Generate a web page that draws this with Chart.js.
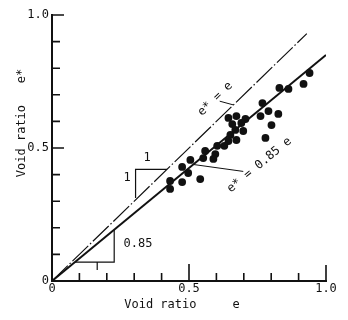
<!DOCTYPE html>
<html>
<head>
<meta charset="utf-8">
<script src="https://cdn.jsdelivr.net/npm/chart.js@4.4.1/dist/chart.umd.min.js"></script>
<style>
  html, body { margin: 0; padding: 0; background: #fff; }
  #wrap { width: 348px; height: 320px; }
</style>
</head>
<body>
<div id="wrap"><canvas id="voidChart" width="348" height="320"></canvas></div>
<script>
'use strict';

// measured void ratio e vs. equivalent void ratio e*
const ratioE     = [0.940, 0.918, 0.830, 0.863, 0.768, 0.790, 0.826, 0.761, 0.801, 0.779,
                    0.644, 0.673, 0.706, 0.658, 0.691, 0.669, 0.698, 0.651, 0.673, 0.644,
                    0.629, 0.603, 0.559, 0.552, 0.596, 0.589, 0.505, 0.475, 0.497, 0.541,
                    0.431, 0.475, 0.431];
const ratioEStar = [0.782, 0.741, 0.726, 0.722, 0.669, 0.639, 0.628, 0.620, 0.586, 0.538,
                    0.613, 0.620, 0.609, 0.590, 0.594, 0.568, 0.564, 0.549, 0.530, 0.526,
                    0.508, 0.508, 0.489, 0.462, 0.477, 0.459, 0.455, 0.429, 0.406, 0.383,
                    0.376, 0.372, 0.346];

// reference lines
const unityX = [0, 0.93];
const unityY = [0, 0.93];
const fitX   = [0, 1.0];
const fitY   = [0, 0.85];

// slope triangles
const triUpX  = [0.305, 0.305, 0.42];
const triUpY  = [0.312, 0.42, 0.42];
const triLowX = [0.0835, 0.227, 0.227];
const triLowY = [0.071, 0.071, 0.193];
const triTickX = [0.165, 0.165];
const triTickY = [0.071, 0.041];

// leader lines from labels
const leadUnityX = [0.612, 0.662];
const leadUnityY = [0.676, 0.662];
const leadFitX   = [0.516, 0.698];
const leadFitY   = [0.438, 0.412];

// axis ticks
const tickValues = [0.1, 0.2, 0.3, 0.4, 0.5, 0.6, 0.7, 0.8, 0.9, 1.0];
const tickLabels = { 0: '0', 0.5: '0.5', 1: '1.0' };

const INK = '#111';
const MONO = '"DejaVu Sans Mono", "Liberation Mono", monospace';

const pts = (xs, ys) => xs.map((x, i) => ({ x, y: ys[i] }));

const lineSet = (xs, ys, width, dash) => ({
  type: 'line',
  data: pts(xs, ys),
  borderColor: INK,
  borderWidth: width,
  borderDash: dash || [],
  pointRadius: 0,
  fill: false,
  tension: 0,
  order: 2,
});

const labelFor = v => {
  const key = Math.round(v * 10) / 10;
  return tickLabels[key] !== undefined ? tickLabels[key] : '';
};

const decorPlugin = {
  id: 'decor',
  afterDraw(chart) {
    const { ctx } = chart;
    const xs = chart.scales.x, ys = chart.scales.y;
    const x0 = xs.getPixelForValue(0), y0 = ys.getPixelForValue(0);
    ctx.save();
    ctx.strokeStyle = INK;
    ctx.fillStyle = INK;
    ctx.lineWidth = 1.6;
    ctx.beginPath();
    tickValues.forEach(v => {
      const px = xs.getPixelForValue(v);
      const lx = v === 0.5 ? 17 : v === 1.0 ? 16 : 8;
      ctx.moveTo(px, y0);
      ctx.lineTo(px, y0 - lx);
      const py = ys.getPixelForValue(v);
      const ly = (v === 0.5 || v === 1.0) ? 12 : 8;
      ctx.moveTo(x0, py);
      ctx.lineTo(x0 + ly, py);
    });
    ctx.stroke();

    const text = (str, vx, vy, angle, size) => {
      ctx.save();
      ctx.translate(xs.getPixelForValue(vx), ys.getPixelForValue(vy));
      ctx.rotate(angle);
      ctx.font = (size || 12) + 'px ' + MONO;
      ctx.textAlign = 'center';
      ctx.textBaseline = 'middle';
      ctx.fillText(str, 0, 0);
      ctx.restore();
    };
    text('1', 0.347, 0.462, 0);
    text('1', 0.274, 0.387, 0);
    text('0.85', 0.314, 0.139, 0);
    text('e* = e', 0.596, 0.684, -44 * Math.PI / 180);
    text('e* = 0.85 e', 0.757, 0.436, -39.6 * Math.PI / 180);

    // axis titles
    ctx.font = '12px ' + MONO;
    ctx.textAlign = 'center';
    ctx.textBaseline = 'middle';
    ctx.fillText('Void ratio     e', 182, 305);
    ctx.translate(22, 123);
    ctx.rotate(-Math.PI / 2);
    ctx.fillText('Void ratio   e*', 0, 0);
    ctx.restore();
  },
};

new Chart(document.getElementById('voidChart'), {
  type: 'scatter',
  data: {
    datasets: [
      {
        label: 'e*',
        data: pts(ratioE, ratioEStar),
        backgroundColor: INK,
        borderWidth: 0,
        pointRadius: 3.9,
        order: 1,
      },
      lineSet(unityX, unityY, 1.2, [22, 2.5, 1.5, 2.5]),
      lineSet(fitX, fitY, 2),
      lineSet(triUpX, triUpY, 1.2),
      lineSet(triLowX, triLowY, 1.2),
      lineSet(triTickX, triTickY, 1.2),
      lineSet(leadUnityX, leadUnityY, 1),
      lineSet(leadFitX, leadFitY, 1),
    ],
  },
  options: {
    responsive: false,
    animation: false,
    events: [],
    layout: { padding: { top: 15, right: 22, left: 0, bottom: 0 } },
    plugins: { legend: { display: false }, tooltip: { enabled: false } },
    scales: {
      x: {
        type: 'linear', min: 0, max: 1,
        grid: { display: false, drawTicks: false },
        border: { display: true, color: INK, width: 2 },
        ticks: {
          stepSize: 0.1, autoSkip: false, maxRotation: 0, padding: 1,
          color: INK, font: { family: MONO, size: 12 },
          callback: labelFor,
        },
        afterFit: s => { s.height = 39; },
      },
      y: {
        type: 'linear', min: 0, max: 1,
        grid: { display: false, drawTicks: false },
        border: { display: true, color: INK, width: 2 },
        ticks: {
          stepSize: 0.1, autoSkip: false, padding: 3,
          color: INK, font: { family: MONO, size: 12 },
          callback: labelFor,
        },
        afterFit: s => { s.width = 52; },
      },
    },
  },
  plugins: [decorPlugin],
});
</script>
</body>
</html>
